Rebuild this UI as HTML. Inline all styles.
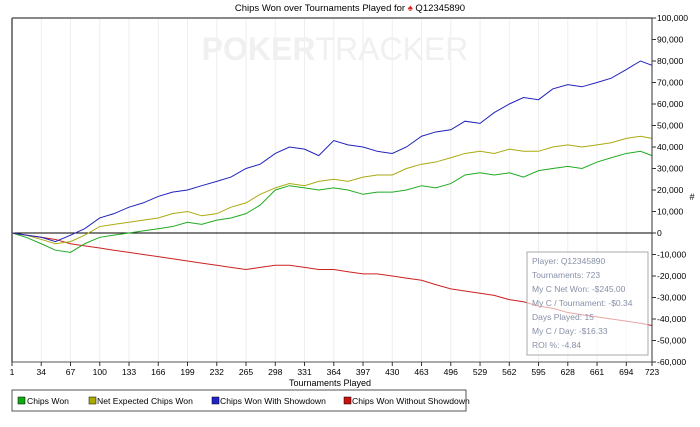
<!DOCTYPE html>
<html><head><meta charset="utf-8"><style>
body{margin:0;background:#fff;font-family:"Liberation Sans",sans-serif}
svg text{font-family:"Liberation Sans",sans-serif}
</style></head><body>
<svg width="700" height="422" viewBox="0 0 700 422" id="chart">
<text x="350" y="11" font-size="9.5" text-anchor="middle" fill="#000">Chips Won over Tournaments Played for <tspan fill="#d22">♠</tspan> Q12345890</text>
<g id="grid"></g>
<text x="335" y="60" font-size="32" font-weight="bold" text-anchor="middle" fill="#f0f0f0">POKER<tspan font-weight="normal">TRACKER</tspan></text>
<g id="series"></g>
<line x1="12" y1="18" x2="652" y2="18" stroke="#888" stroke-width="2"/>
<line x1="12" y1="18" x2="12" y2="362" stroke="#555" stroke-width="1.5"/>
<line x1="652" y1="18" x2="652" y2="362" stroke="#333" stroke-width="1"/>
<line x1="12" y1="362" x2="652" y2="362" stroke="#555" stroke-width="1"/>
<g id="axes"></g>
<text x="330" y="386" font-size="9" text-anchor="middle">Tournaments Played</text>
<text x="692" y="200" font-size="9" text-anchor="middle">#</text>
<g>
<rect x="527" y="252" width="121" height="103" fill="#fff" fill-opacity="0.6" stroke="#aaa"/>
<g font-size="8.5" fill="#8890a8">
<text x="532" y="264">Player: Q12345890</text>
<text x="532" y="278">Tournaments: 723</text>
<text x="532" y="292">My C Net Won: -$245.00</text>
<text x="532" y="306">My C / Tournament: -$0.34</text>
<text x="532" y="320">Days Played: 15</text>
<text x="532" y="334">My C / Day: -$16.33</text>
<text x="532" y="348">ROI %: -4.84</text>
</g></g>
<g>
<rect x="12" y="390" width="454" height="21" fill="#fff" stroke="#555"/>
<g font-size="8.6">
<rect x="18" y="397" width="7" height="7" fill="#1a1" stroke="#000" stroke-width="0.5"/><text x="27" y="404">Chips Won</text>
<rect x="89" y="397" width="7" height="7" fill="#aa0" stroke="#000" stroke-width="0.5"/><text x="97" y="404">Net Expected Chips Won</text>
<rect x="212" y="397" width="7" height="7" fill="#22c" stroke="#000" stroke-width="0.5"/><text x="220" y="404">Chips Won With Showdown</text>
<rect x="344" y="397" width="7" height="7" fill="#c11" stroke="#000" stroke-width="0.5"/><text x="352" y="404">Chips Won Without Showdown</text>
</g></g>
</svg>
<script>
const tournaments=[1,17,34,50,67,83,100,116,133,149,166,182,199,215,232,248,265,281,298,314,331,347,364,380,397,413,430,446,463,479,496,512,529,545,562,578,595,611,628,644,661,677,694,710,723];
const xTicks=[1,34,67,100,133,166,199,232,265,298,331,364,397,430,463,496,529,562,595,628,661,694,723];
const yTicks=[100000,90000,80000,70000,60000,50000,40000,30000,20000,10000,0,-10000,-20000,-30000,-40000,-50000,-60000];
const blueK=[0,-1,-2,-4,-1,2,7,9,12,14,17,19,20,22,24,26,30,32,37,40,39,36,43,41,40,38,37,40,45,47,48,52,51,56,60,63,62,67,69,68,70,72,76,80,78];
const oliveK=[0,-1,-3,-5,-4,-1,3,4,5,6,7,9,10,8,9,12,14,18,21,23,22,24,25,24,26,27,27,30,32,33,35,37,38,37,39,38,38,40,41,40,41,42,44,45,44];
const greenK=[0,-2,-5,-8,-9,-5,-2,-1,0,1,2,3,5,4,6,7,9,13,20,22,21,20,21,20,18,19,19,20,22,21,23,27,28,27,28,26,29,30,31,30,33,35,37,38,36];
const redK=[0,-1,-2,-3,-5,-6,-7,-8,-9,-10,-11,-12,-13,-14,-15,-16,-17,-16,-15,-15,-16,-17,-17,-18,-19,-19,-20,-21,-22,-24,-26,-27,-28,-29,-31,-32,-34,-35,-37,-38,-39,-40,-41,-42,-43];
const NS="http://www.w3.org/2000/svg";
function xS(t){return 12+(t-1)/722*640;}
function yS(v){return 233-v/10000*21.5;}
function mk(tag,attrs,parent){const e=document.createElementNS(NS,tag);for(const k in attrs)e.setAttribute(k,attrs[k]);parent.appendChild(e);return e;}
const grid=document.getElementById('grid'),axes=document.getElementById('axes'),ser=document.getElementById('series');
xTicks.forEach(t=>{
 const g=mk('line',{x1:xS(t),x2:xS(t),y1:18,y2:362,stroke:'#eee'},grid);
 
 
 mk('line',{x1:xS(t),x2:xS(t),y1:362,y2:366,stroke:'#333'},axes);
 const tx=mk('text',{x:xS(t),y:375,'font-size':8.6,'text-anchor':'middle'},axes);
 tx.textContent=t;
 
 
});
yTicks.forEach(v=>{
 mk('line',{x1:652,x2:656,y1:yS(v),y2:yS(v),stroke:'#333'},axes);
 const tx=mk('text',{x:657,y:yS(v)+3,'font-size':8.6},axes);
 tx.textContent=v.toLocaleString('en-US');
 
 
});
const z=mk('line',{x1:12,x2:652,y1:yS(0),y2:yS(0),stroke:'#000'},grid);


[[redK,'#c22','series-without-showdown'],[greenK,'#22aa22','series-chips-won'],[oliveK,'#aaaa11','series-net-expected'],[blueK,'#2222bb','series-with-showdown']].forEach(([arr,c,n])=>{
 const p=mk('polyline',{points:arr.map((v,i)=>xS(tournaments[i])+','+yS(v*1000)).join(' '),fill:'none',stroke:c,'stroke-width':1},ser);
 
 
});
</script>
</body></html>
